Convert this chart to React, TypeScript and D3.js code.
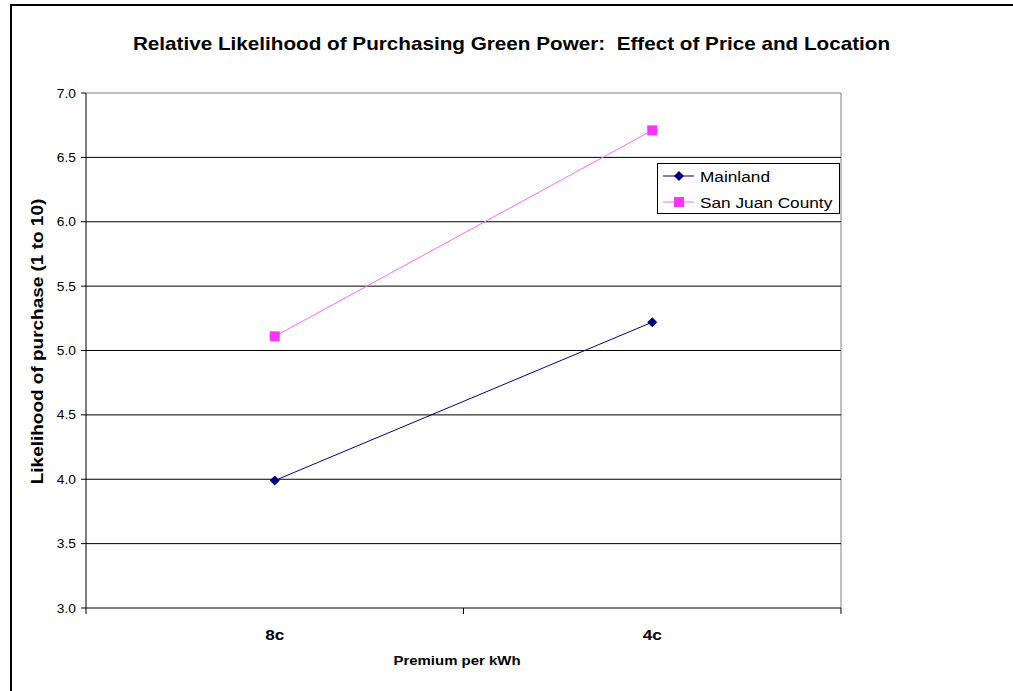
import React from "react";
import * as d3 from "d3";

const categories = ["8c", "4c"];
const mainland = [3.99, 5.22];
const sanJuan = [5.11, 6.71];
const yTicks = [3.0, 3.5, 4.0, 4.5, 5.0, 5.5, 6.0, 6.5, 7.0];
const seriesNames = ["Mainland", "San Juan County"];

const W = 1013, H = 691;
const L = 86, R = 841, T = 93, B = 608;
const SX = 1.15;

function Txt(props: { x: number; y: number; size: number; anchor?: string; bold?: boolean; rot?: number; children: React.ReactNode }) {
  const { x, y, size, anchor = "start", bold, rot = 0, children } = props;
  return (
    <text
      transform={`translate(${x},${y}) rotate(${rot}) scale(${SX},1)`}
      textAnchor={anchor}
      fontSize={size}
      fontWeight={bold ? "bold" : "normal"}
      style={{ whiteSpace: "pre" }}
    >
      {children}
    </text>
  );
}

export default function App() {
  const x = d3.scaleBand<string>().domain(categories).range([L, R]).padding(0);
  const y = d3.scaleLinear().domain([3, 7]).range([B, T]);
  const cx = (c: string) => (x(c) as number) + x.bandwidth() / 2;
  const line = d3.line<number>().x((_, i) => cx(categories[i])).y((v) => y(v));
  const font = "Arial, 'Liberation Sans', sans-serif";
  const series = [
    { name: seriesNames[0], vals: mainland, color: "#000080", line: "#000080", shape: "diamond" },
    { name: seriesNames[1], vals: sanJuan, color: "#ff33ff", line: "#ff66ff", shape: "square" },
  ];
  const marker = (shape: string, px: number, py: number, color: string, key: string) =>
    shape === "diamond" ? (
      <path key={key} d={`M${px},${py - 5}L${px + 5},${py}L${px},${py + 5}L${px - 5},${py}Z`} fill={color} />
    ) : (
      <rect key={key} x={px - 5} y={py - 5} width={10} height={10} fill={color} />
    );
  const edges = [L, ...categories.map((c) => (x(c) as number) + x.bandwidth())];
  return (
    <svg width={W} height={H} style={{ position: "absolute", left: 0, top: 0 }} fontFamily={font}>
      <rect x={0} y={0} width={W} height={H} fill="#fff" />
      <path d={`M11,${H + 5}V5H${W + 5}`} fill="none" stroke="#000" strokeWidth={2} />
      <Txt x={511.5} y={50} size={18} anchor="middle" bold>
        {"Relative Likelihood of Purchasing Green Power:  Effect of Price and Location"}
      </Txt>
      <path d={`M${L},${T}H${R}V${B}`} fill="none" stroke="#808080" strokeWidth={1} />
      {yTicks.map((t) => (
        <g key={t}>
          {t > 3 && t < 7 && <line x1={L} x2={R} y1={y(t)} y2={y(t)} stroke="#000" strokeWidth={1} />}
          <line x1={L - 5} x2={L} y1={y(t)} y2={y(t)} stroke="#000" />
          <Txt x={76} y={y(t) + 4.5} size={12} anchor="end">{t.toFixed(1)}</Txt>
        </g>
      ))}
      <line x1={L} x2={L} y1={T} y2={B} stroke="#000" />
      <line x1={L} x2={R} y1={B} y2={B} stroke="#000" />
      {edges.map((e, i) => (
        <line key={i} x1={e} x2={e} y1={B} y2={B + 6} stroke="#000" />
      ))}
      {categories.map((c) => (
        <Txt key={c} x={cx(c)} y={640} size={15} anchor="middle" bold>{c}</Txt>
      ))}
      <Txt x={457} y={665} size={13} anchor="middle" bold>Premium per kWh</Txt>
      <Txt x={43} y={341.5} size={16.5} anchor="middle" bold rot={-90}>Likelihood of purchase (1 to 10)</Txt>
      {series.map((s) => (
        <g key={s.name}>
          <path d={line(s.vals) || ""} fill="none" stroke={s.line} strokeWidth={1} />
          {s.vals.map((v, i) => marker(s.shape, cx(categories[i]), y(v), s.color, s.name + i))}
        </g>
      ))}
      <rect x={657.5} y={163.5} width={182} height={50} fill="#fff" stroke="#000" />
      {series.map((s, i) => {
        const ly = 176 + i * 26;
        return (
          <g key={s.name}>
            <line x1={663} x2={694} y1={ly} y2={ly} stroke={s.line} />
            {marker(s.shape, 679, ly, s.color, "l" + i)}
            <Txt x={700} y={ly + 5.5} size={15}>{s.name}</Txt>
          </g>
        );
      })}
    </svg>
  );
}
